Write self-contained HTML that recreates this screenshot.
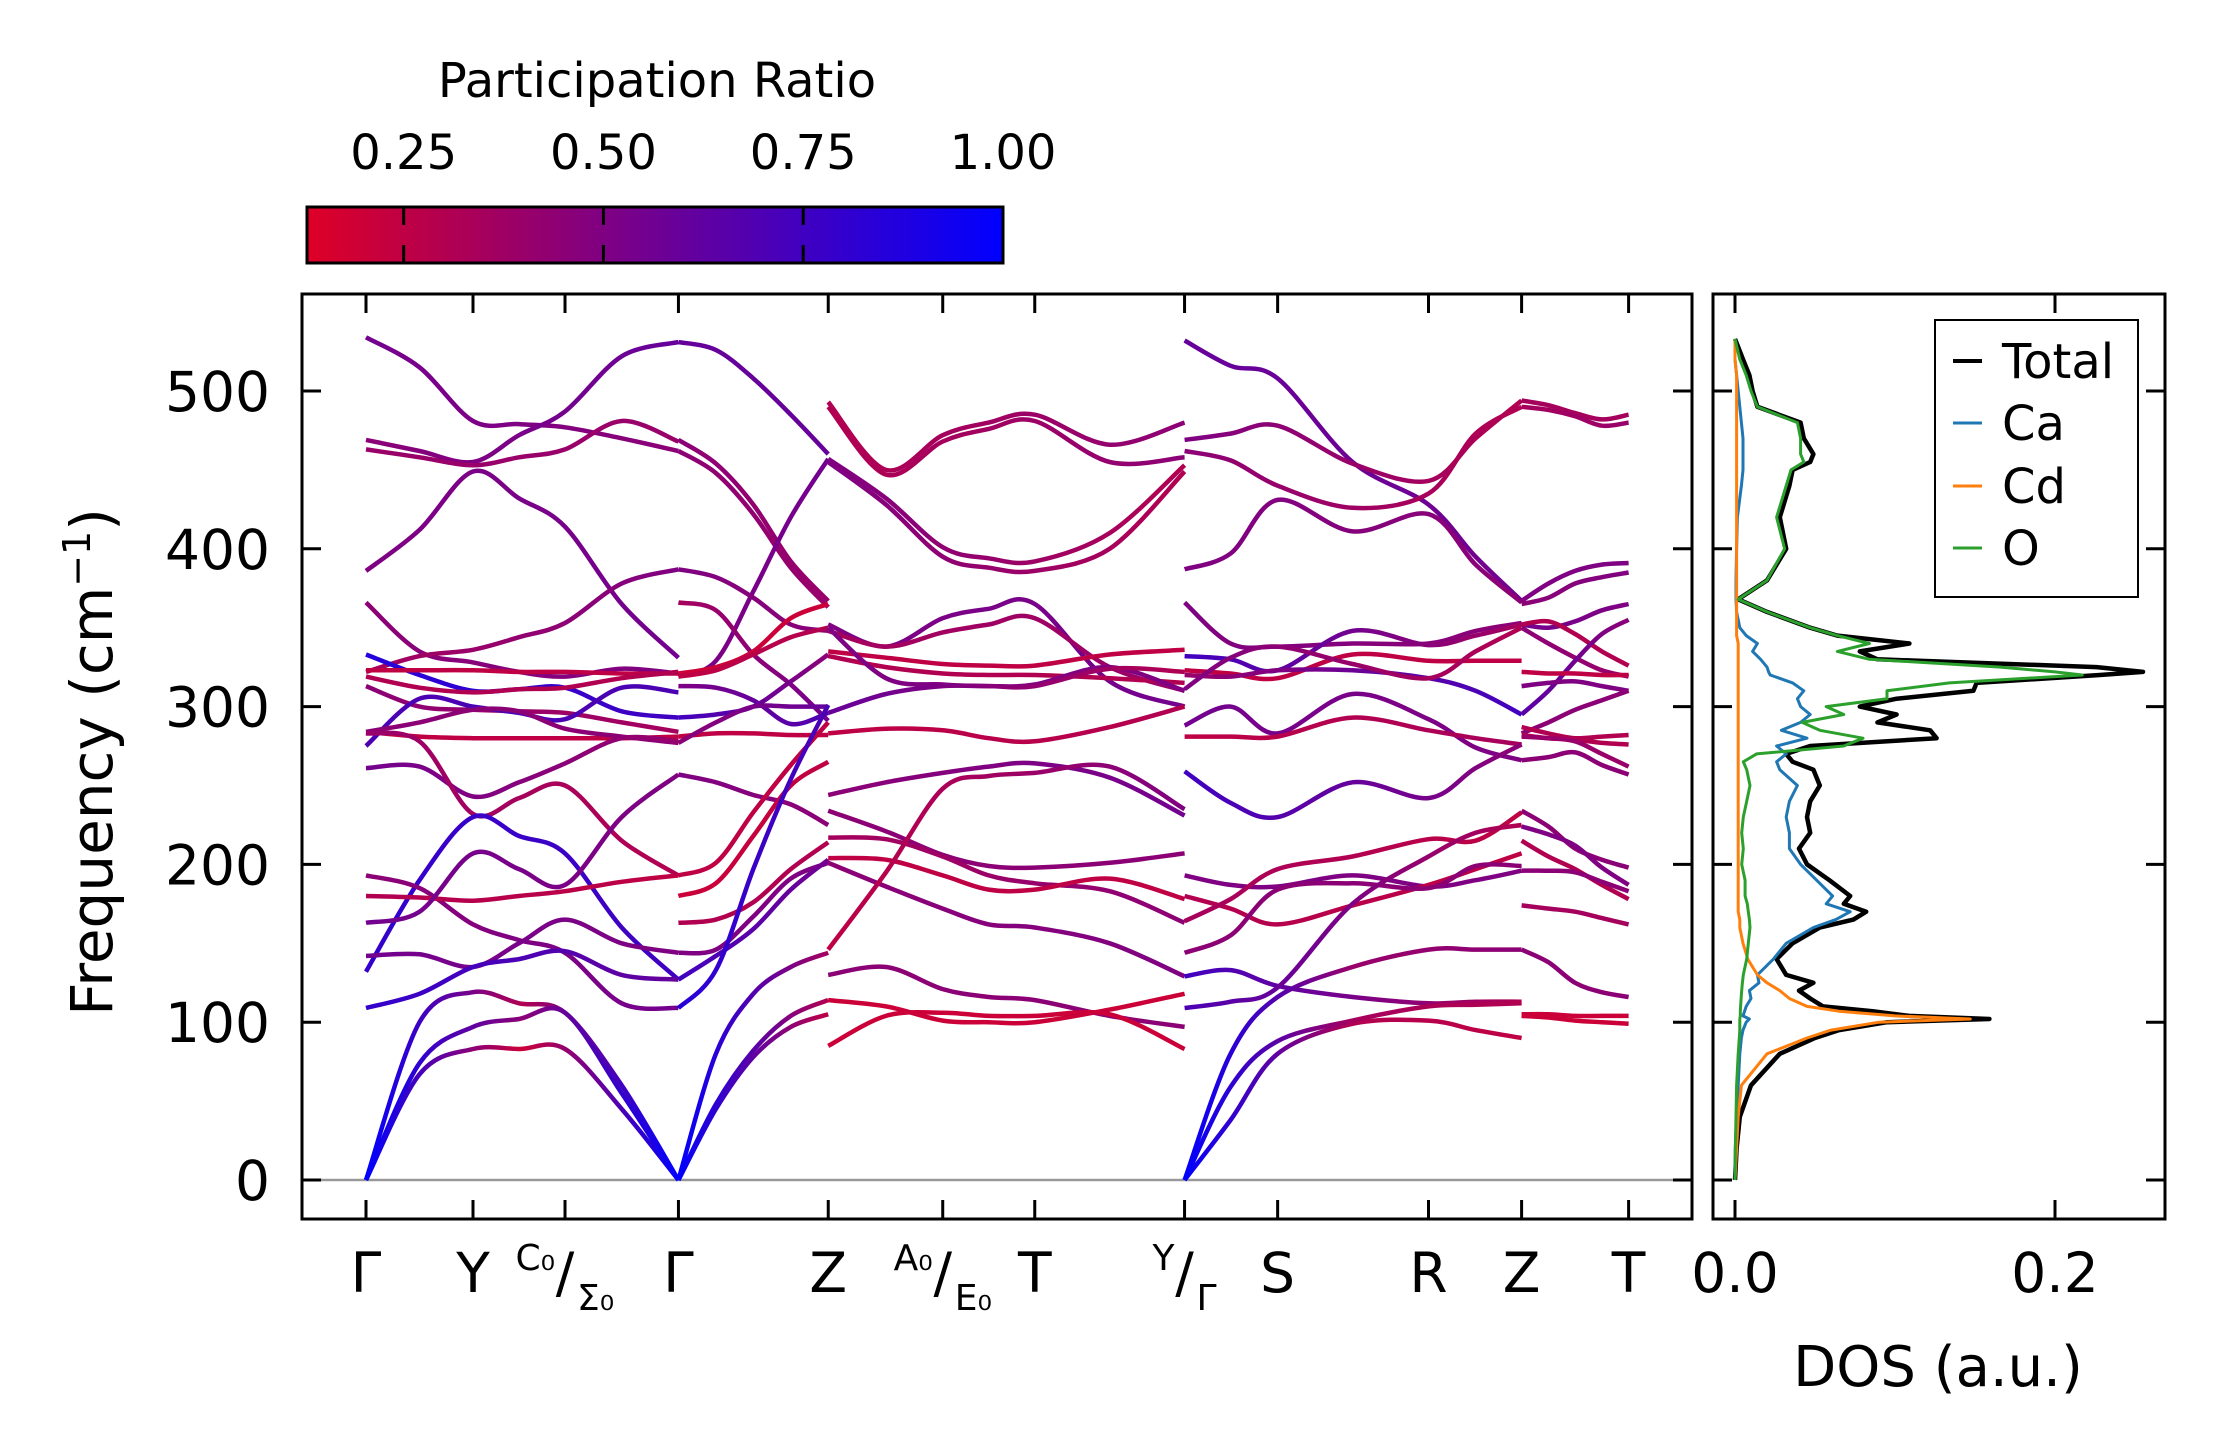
<!DOCTYPE html>
<html><head><meta charset="utf-8"><title>Phonon band structure and DOS</title>
<style>
html,body{margin:0;padding:0;background:#fff;}
svg{display:block;font-family:"DejaVu Sans","Liberation Sans",sans-serif;}
</style></head>
<body>
<svg id="fig" xmlns="http://www.w3.org/2000/svg" width="2222" height="1455" viewBox="0 0 2222 1455">
<defs id="defs"></defs>
<rect x="0" y="0" width="2222" height="1455" fill="#fff"/>
<g id="colorbar"></g>
<g id="bands"></g>
<g id="dos"></g>
<g id="axes"></g>
<text x="112" y="762" font-size="58" text-anchor="middle" transform="rotate(-90 112 762)">Frequency (cm<tspan font-size="38" dy="-22">−1</tspan><tspan dy="22">)</tspan></text>
<text x="1938" y="1386" font-size="56" text-anchor="middle">DOS (a.u.)</text>
<text x="657" y="97" font-size="48" text-anchor="middle">Participation Ratio</text>
<g>
<rect x="1935" y="320" width="203" height="277" fill="#fff" stroke="#000" stroke-width="2"/>
<line x1="1953" y1="361" x2="1982" y2="361" stroke="#000" stroke-width="4"/>
<text x="2002" y="378" font-size="48">Total</text>
<line x1="1953" y1="423" x2="1982" y2="423" stroke="#1f77b4" stroke-width="3"/>
<text x="2002" y="440" font-size="48">Ca</text>
<line x1="1953" y1="486" x2="1982" y2="486" stroke="#ff7f0e" stroke-width="3"/>
<text x="2002" y="503" font-size="48">Cd</text>
<line x1="1953" y1="548" x2="1982" y2="548" stroke="#2ca02c" stroke-width="3"/>
<text x="2002" y="565" font-size="48">O</text>
</g>
</svg>
<script>
// ---- data ----
const kTicks=[0,1.0,1.86,2.92,4.32,5.39,6.25,7.65,8.52,9.93,10.80,11.80];
const kLabels=["Γ","Y","C₀|Σ₀","Γ","Z","A₀|E₀","T","Y|Γ","S","R","Z","T"];
const yTicks=[0,100,200,300,400,500];
const cbTicks=[0.25,0.50,0.75,1.00];
const cbTickLabels=["0.25","0.50","0.75","1.00"];
const dosTicks=[0.0,0.2];
const dosTickLabels=["0.0","0.2"];

const pieceAK=[0,0.5,1,1.43,1.86,2.39,2.92];
const pieceABands=[
[534,515,481,479,477,470,462],[469,462,455,472,487,522,531],[463,458,453,458,463,481,468],
[386,412,449,432,414,365,331],[366,335,328,322,319,324,321],[322,332,336,344,353,378,387],
[333,320,310,311,312,297,293],[323,323,323,322,322,321,321],[319,312,309,311,312,318,322],
[313,300,298,297,296,290,284],[284,281,280,280,280,280,281],[275,305,300,296,292,312,309],
[284,290,298,297,286,281,277],[261,262,243,252,264,280,278],[283,278,232,242,250,215,193],
[132,190,230,218,207,160,127],[193,185,162,152,144,112,109],[180,179,177,180,183,189,193],
[163,170,207,197,187,230,257],[142,143,135,150,165,150,144],[109,118,135,140,145,130,127],
[0,100,119,112,106,60,0],[0,74,97,102,106,55,0],[0,67,83,83,83,45,0]];
const pieceAPR=[
[.55,.45],[.45,.6],[.4,.4],[.5,.55],[.45,.5],[.35,.5],[.85,.75],[.25,.25],[.3,.3],[.45,.35],[.25,.25],[.7,.7],
[.45,.45],[.55,.4],[.4,.3],[.8,.75],[.45,.55],[.3,.25],[.55,.5],[.55,.5],[.8,.6],[1,.3,1],[1,.45,1],[1,.2,1]];

const pieceBK=[2.92,3.27,3.62,3.97,4.32];
const pieceBBands=[
[531,526,508,485,460],[469,454,428,392,367],[462,448,422,388,363],[319,329,373,420,457],
[387,382,369,352,348],[366,361,333,314,291],[321,325,335,356,365],[319,323,333,344,350],
[293,295,300,316,333],[313,312,304,289,296],[281,283,283,282,282],[277,290,300,300,300],
[257,252,244,238,225],[193,201,233,263,290],[180,188,218,250,265],[163,165,176,197,214],
[144,146,167,191,201],[127,142,159,184,203],[109,133,197,254,301],
[0,80,118,135,144],[0,48,82,104,114],[0,45,78,97,105]];
const pieceBPR=[
[.6,.6],[.45,.4],[.45,.4],[.5,.55],[.5,.45],[.35,.55],[.2,.2],[.25,.3],[.75,.45],[.5,.7],[.25,.25],[.45,.6],
[.5,.45],[.25,.25],[.2,.25],[.3,.3],[.5,.5],[.75,.55],[.85,.7],[1,.35],[1,.3],[1,.25]];

const pieceCK=[4.32,4.86,5.39,5.82,6.25,6.95,7.65];
const pieceCBands=[
[493,450,472,480,485,466,480],[490,447,468,476,481,455,458],[457,432,401,394,392,410,453],
[455,428,395,388,386,400,449],[352,338,356,362,365,316,300],[348,338,347,352,356,325,310],
[335,331,327,326,326,333,336],[332,325,321,320,320,318,315],[350,318,314,313,314,325,310],
[296,308,313,313,313,324,322],[283,286,285,280,278,287,300],[244,252,258,262,264,255,231],
[234,221,206,199,198,201,207],[217,216,205,193,188,183,163],[204,203,193,184,184,191,178],
[201,186,172,162,160,150,129],[130,135,121,116,114,104,97],[114,110,101,100,100,108,118],
[85,104,106,104,104,105,83],[146,195,248,256,258,262,235]];
const pieceCPR=[
[.3,.45],[.3,.45],[.5,.3],[.5,.3],[.5,.55],[.35,.4],[.25,.25],[.3,.3],[.5,.5],[.6,.3],[.25,.3],[.45,.55],
[.45,.45],[.35,.45],[.25,.25],[.45,.5],[.45,.45],[.2,.2],[.2,.2],[.25,.5]];

const pieceDK=[7.65,8.08,8.52,9.22,9.93,10.37,10.80];
const pieceDBands=[
[532,516,508,455,428,395,367],[469,473,478,454,443,470,494],[462,456,440,426,435,473,490],
[387,397,431,411,422,390,366],[366,340,338,340,340,348,353],[332,330,323,348,339,345,352],
[323,321,318,333,329,329,329],[320,319,323,323,318,310,295],[311,331,338,327,318,335,350],
[288,300,283,308,292,274,266],[281,281,281,293,285,280,276],[259,239,230,252,242,261,276],
[193,187,186,193,186,190,196],[180,172,162,174,187,197,207],[164,178,197,205,216,215,233],
[144,155,184,188,185,199,199],[129,133,123,116,112,113,113],[109,113,122,175,205,220,225],
[0,80,116,135,146,146,146],[0,38,80,99,101,95,90],[0,59,88,101,110,111,112]];
const pieceDPR=[
[.6,.55],[.5,.3],[.45,.3],[.5,.45],[.5,.45],[.75,.35],[.25,.25],[.4,.75],[.5,.3],[.55,.5],[.25,.35],[.75,.45],
[.5,.5],[.3,.25],[.35,.25],[.45,.45],[.75,.3],[.7,.3],[1,.4,.45],[1,.3,.25],[1,.35,.3]];

const pieceEK=[10.80,11.05,11.30,11.55,11.80];
const pieceEBands=[
[494,491,486,482,485],[490,488,484,478,480],[367,378,386,390,391],[365,369,378,382,385],
[352,350,354,361,365],[352,354,346,335,326],[350,340,331,323,319],[295,310,329,346,355],
[322,321,321,320,320],[313,315,316,313,310],[283,290,298,304,310],[282,280,279,277,276],
[287,283,280,281,282],[266,268,271,263,257],[281,280,278,270,262],[234,224,210,203,198],
[224,219,212,198,187],[215,205,197,187,178],[196,196,195,189,183],[174,172,170,166,162],
[146,138,125,119,116],[105,105,104,104,104],[104,103,101,100,99]];
const pieceEPR=[
[.35,.35],[.35,.4],[.5,.5],[.45,.5],[.55,.5],[.3,.3],[.45,.4],[.65,.45],[.25,.25],[.5,.5],[.45,.45],[.3,.3],
[.3,.3],[.45,.45],[.4,.4],[.45,.45],[.5,.5],[.3,.3],[.45,.45],[.35,.35],[.45,.45],[.2,.2],[.2,.2]];

const dosFreq=[0,20,40,60,80,90,95,100,102,104,107,110,115,120,125,130,140,150,160,165,170,175,180,190,200,210,220,230,240,250,260,265,270,275,280,285,290,295,300,305,310,315,320,322,325,330,335,340,345,350,360,368,380,400,420,440,450,455,460,470,480,490,500,510,520,533];
const dosTotal=[0,.001,.003,.01,.028,.05,.065,.095,.159,.109,.086,.055,.047,.04,.049,.032,.026,.036,.053,.074,.082,.068,.072,.059,.045,.040,.047,.045,.047,.053,.049,.036,.032,.047,.126,.122,.089,.101,.078,.101,.149,.151,.228,.255,.226,.089,.078,.109,.064,.047,.020,.002,.020,.032,.028,.034,.036,.047,.049,.043,.041,.014,.011,.009,.005,0];
const dosCa=[0,.0002,.001,.002,.003,.004,.005,.007,.009,.005,.006,.007,.010,.009,.015,.014,.024,.032,.049,.063,.072,.057,.061,.051,.041,.034,.034,.032,.034,.039,.028,.026,.032,.026,.045,.029,.041,.047,.041,.039,.043,.036,.022,.021,.020,.016,.011,.014,.007,.003,.001,.0006,.0006,.001,.0015,.004,.005,.005,.005,.005,.004,.003,.002,.001,0,0];
const dosCd=[0,.001,.002,.004,.02,.045,.06,.09,.147,.1,.065,.045,.034,.028,.02,.014,.008,.005,.003,.003,.002,.002,.002,.002,.002,.002,.002,.002,.002,.002,.002,.002,.002,.002,.002,.002,.002,.002,.002,.002,.002,.002,.002,.002,.002,.002,.002,.002,.001,.001,.001,.001,.001,.001,.001,.001,.001,.001,.001,.001,.001,.001,.001,.001,0,0];
const dosO=[0,.0002,.0006,.001,.002,.0027,.003,.003,.003,.0033,.0033,.0035,.0038,.0042,.0046,.0052,.0073,.0083,.0094,.009,.0083,.0077,.0063,.0063,.0042,.0052,.0042,.0052,.0073,.0094,.0073,.0052,.0135,.068,.080,.053,.042,.068,.057,.095,.095,.134,.217,.2,.166,.084,.064,.084,.064,.047,.020,.002,.020,.031,.026,.032,.035,.043,.041,.041,.039,.014,.010,.007,.003,0];

// ---- scales ----
const NS="http://www.w3.org/2000/svg";
const M={l:302,r:1692,t:294,b:1219};
const D={l:1713,r:2165};
function xk(k){return 366+k*107.0;}
function yf(f){return 1180-1.578*f;}
function xd(v){return 1735+1600*v;}
const CB={l:307,r:1003,t:207,b:263,min:0.129,max:1.0};
function xcb(p){return CB.l+(p-CB.min)/(CB.max-CB.min)*(CB.r-CB.l);}
function cmap(p){let t=(p-CB.min)/(CB.max-CB.min);t=Math.max(0,Math.min(1,t));
  const r=Math.round(222*(1-t)),b=Math.round(38+217*t);return `rgb(${r},0,${b})`;}
function mk(tag,attrs,parent){const e=document.createElementNS(NS,tag);for(const a in attrs)e.setAttribute(a,attrs[a]);parent.appendChild(e);return e;}

const defs=document.getElementById('defs');
const axes=document.getElementById('axes');

// ---- colorbar ----
const cbg=document.getElementById('colorbar');
const grad=mk('linearGradient',{id:'cbgrad',x1:'0',x2:'1',y1:'0',y2:'0'},defs);
for(let i=0;i<=10;i++){const p=CB.min+(CB.max-CB.min)*i/10;mk('stop',{offset:(i/10).toString(),'stop-color':cmap(p)},grad);}
const cbr=mk('rect',{x:CB.l,y:CB.t,width:CB.r-CB.l,height:CB.b-CB.t,fill:'url(#cbgrad)',stroke:'#000','stroke-width':3},cbg);


cbTicks.forEach((p,i)=>{
  const x=xcb(p);
  if(p<1){
    const t1=mk('line',{x1:x,x2:x,y1:CB.t,y2:CB.t+18,stroke:'#000','stroke-width':3},cbg);
    
    
    const t2=mk('line',{x1:x,x2:x,y1:CB.b-18,y2:CB.b,stroke:'#000','stroke-width':3},cbg);
    
    
  }
  const tl=mk('text',{x:x,y:169,'font-size':48,'text-anchor':'middle'},cbg);
  tl.textContent=cbTickLabels[i];
  
  
});

// ---- bands ----
const bg=document.getElementById('bands');
const clip=mk('clipPath',{id:'mainclip'},defs);
mk('rect',{x:M.l,y:M.t,width:M.r-M.l,height:M.b-M.t},clip);
bg.setAttribute('clip-path','url(#mainclip)');
const zl=mk('line',{x1:M.l,x2:M.r,y1:yf(0),y2:yf(0),stroke:'#999','stroke-width':2.5},bg);


function smoothPath(pts){
  let d=`M${pts[0][0].toFixed(1)},${pts[0][1].toFixed(1)}`;
  for(let i=0;i<pts.length-1;i++){
    const p0=pts[Math.max(0,i-1)],p1=pts[i],p2=pts[i+1],p3=pts[Math.min(pts.length-1,i+2)];
    const c1=[p1[0]+(p2[0]-p0[0])/6,p1[1]+(p2[1]-p0[1])/6];
    const c2=[p2[0]-(p3[0]-p1[0])/6,p2[1]-(p3[1]-p1[1])/6];
    d+=` C${c1[0].toFixed(1)},${c1[1].toFixed(1)} ${c2[0].toFixed(1)},${c2[1].toFixed(1)} ${p2[0].toFixed(1)},${p2[1].toFixed(1)}`;
  }
  return d;
}
let gid=0;
function drawPiece(ks,bands,prs,name){
  const pg=mk('g',{},bg);
  
  
  bands.forEach((vals,bi)=>{
    const pts=vals.map((v,i)=>[xk(ks[i]),yf(v)]);
    const id='bg'+(gid++);
    const g=mk('linearGradient',{id:id,gradientUnits:'userSpaceOnUse',x1:xk(ks[0]),x2:xk(ks[ks.length-1]),y1:0,y2:0},defs);
    const pr=prs[bi];
    pr.forEach((p,j)=>mk('stop',{offset:(pr.length===1?0:j/(pr.length-1)).toString(),'stop-color':cmap(p)},g));
    const path=mk('path',{d:smoothPath(pts),fill:'none',stroke:`url(#${id})`,'stroke-width':4.5,'stroke-linecap':'butt'},pg);
    
    
  });
}
drawPiece(pieceAK,pieceABands,pieceAPR,'segment-gamma-y-gamma');
drawPiece(pieceBK,pieceBBands,pieceBPR,'segment-gamma-z');
drawPiece(pieceCK,pieceCBands,pieceCPR,'segment-a0-t-y');
drawPiece(pieceDK,pieceDBands,pieceDPR,'segment-gamma-s-r-z');
drawPiece(pieceEK,pieceEBands,pieceEPR,'segment-z-t');

// ---- DOS ----
const dg=document.getElementById('dos');
function drawDos(arr,color,w,name){
  const pts=dosFreq.map((f,i)=>`${xd(arr[i]).toFixed(1)},${yf(f).toFixed(1)}`).join(' ');
  const pl=mk('polyline',{points:pts,fill:'none',stroke:color,'stroke-width':w,'stroke-linejoin':'round'},dg);
  
  
}
drawDos(dosTotal,'#000',4.5,'dos-total-line');
drawDos(dosCa,'#1f77b4',3,'dos-ca-line');
drawDos(dosCd,'#ff7f0e',3,'dos-cd-line');
drawDos(dosO,'#2ca02c',3,'dos-o-line');

// ---- axes frames & ticks ----
const f1=mk('rect',{x:M.l,y:M.t,width:M.r-M.l,height:M.b-M.t,fill:'none',stroke:'#000','stroke-width':3},axes);


const f2=mk('rect',{x:D.l,y:M.t,width:D.r-D.l,height:M.b-M.t,fill:'none',stroke:'#000','stroke-width':3},axes);


const TL=19;
yTicks.forEach(v=>{
  const y=yf(v);
  [[M.l,M.l+TL],[M.r,M.r-TL],[D.l,D.l+TL],[D.r,D.r-TL]].forEach(([a,b])=>{
    const t=mk('line',{x1:a,x2:b,y1:y,y2:y,stroke:'#000','stroke-width':3},axes);
    
    
  });
  const lab=mk('text',{x:270,y:y+20,'font-size':55,'text-anchor':'end'},axes);
  lab.textContent=String(v);
  
  
});
kTicks.forEach((k,i)=>{
  const x=xk(k);
  [[M.b,M.b-TL],[M.t,M.t+TL]].forEach(([a,b])=>{
    const t=mk('line',{x1:x,x2:x,y1:a,y2:b,stroke:'#000','stroke-width':3},axes);
    
    
  });
  const L=kLabels[i];
  if(L.indexOf('|')>=0){
    const [sup,sub]=L.split('|');
    const g=mk('g',{},axes);
    
    
    const s1=mk('text',{x:x-10,y:1270,'font-size':36,'text-anchor':'end'},g);s1.textContent=sup;
    
    
    const s2=mk('text',{x:x,y:1292,'font-size':55,'text-anchor':'middle'},g);s2.textContent='/';
    
    
    const s3=mk('text',{x:x+12,y:1310,'font-size':36,'text-anchor':'start'},g);s3.textContent=sub;
    
    
  } else {
    const t=mk('text',{x:x,y:1292,'font-size':55,'text-anchor':'middle'},axes);
    t.textContent=L;
    
    
  }
});
dosTicks.forEach((v,i)=>{
  const x=xd(v);
  [[M.b,M.b-TL],[M.t,M.t+TL]].forEach(([a,b])=>{
    const t=mk('line',{x1:x,x2:x,y1:a,y2:b,stroke:'#000','stroke-width':3},axes);
    
    
  });
  const lab=mk('text',{x:x,y:1292,'font-size':55,'text-anchor':'middle'},axes);
  lab.textContent=dosTickLabels[i];
  
  
});
</script>
</body></html>
